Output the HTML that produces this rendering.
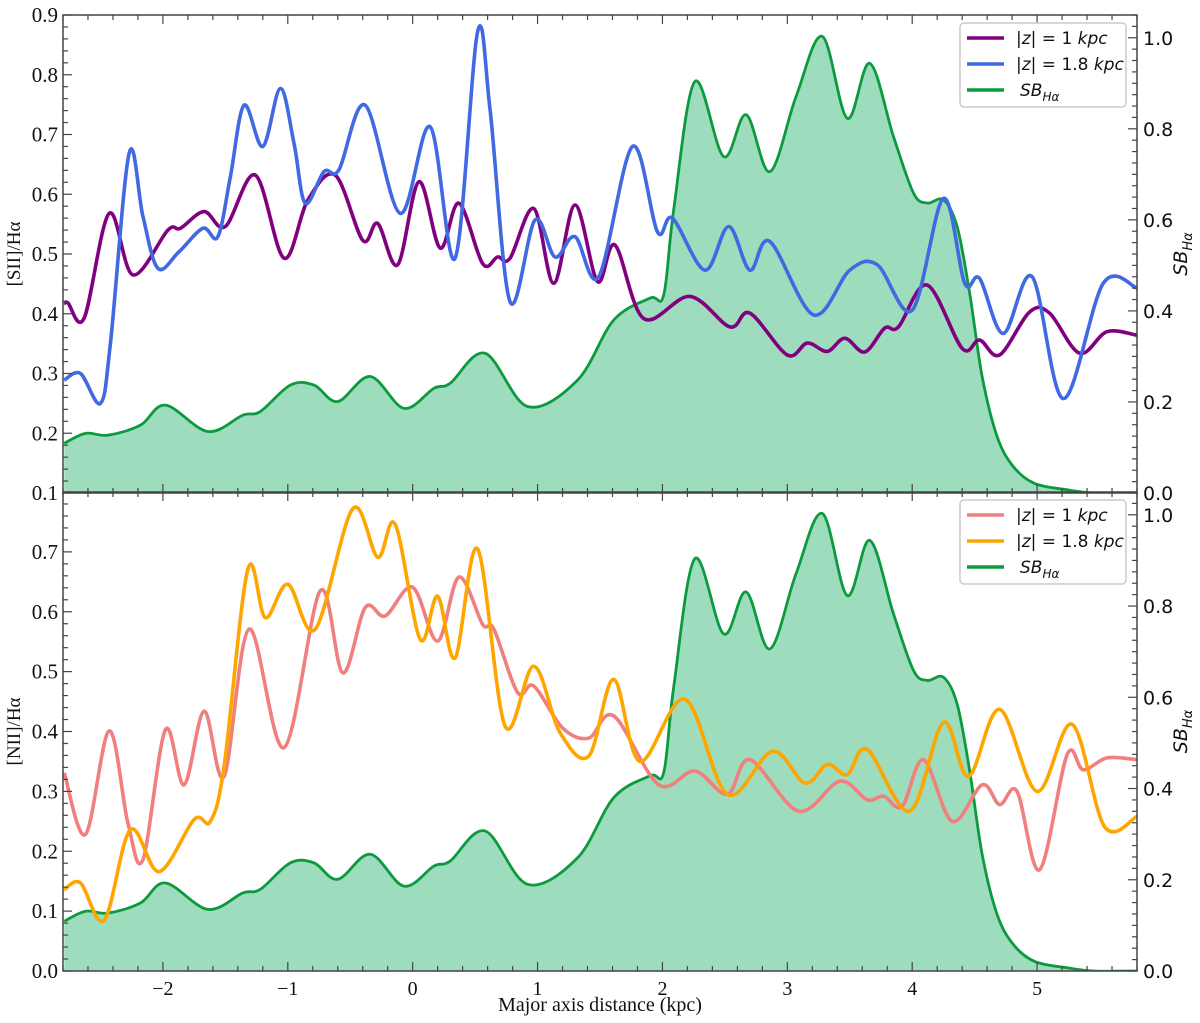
<!DOCTYPE html>
<html><head><meta charset="utf-8">
<style>
body{margin:0;background:#fff;}
svg{display:block;font-family:"Liberation Serif","DejaVu Serif",serif;}
.sans{font-family:"DejaVu Sans","Liberation Sans",sans-serif;}
</style></head>
<body>
<svg id="chart" width="1200" height="1023" viewBox="0 0 1200 1023"></svg>
<script>
// ---- data ----
const sbX = [-2.79,-2.62,-2.44,-2.18,-1.98,-1.64,-1.36,-1.22,-0.98,-0.79,-0.60,-0.34,-0.07,0.17,0.30,0.58,0.92,1.32,1.61,1.90,2.01,2.09,2.26,2.49,2.67,2.86,3.07,3.28,3.48,3.66,3.85,4.01,4.12,4.25,4.36,4.46,4.56,4.68,4.81,4.98,5.24,5.45,5.80];
const sbY = [0.109,0.131,0.127,0.149,0.193,0.135,0.171,0.179,0.237,0.237,0.201,0.256,0.186,0.230,0.241,0.307,0.190,0.248,0.380,0.428,0.435,0.622,0.904,0.739,0.831,0.706,0.871,1.003,0.823,0.944,0.783,0.659,0.637,0.644,0.585,0.439,0.256,0.124,0.058,0.021,0.007,0.0,0.0];

const s1X = [-2.79,-2.76,-2.63,-2.43,-2.24,-1.96,-1.86,-1.67,-1.50,-1.26,-1.03,-0.84,-0.62,-0.40,-0.28,-0.12,0.05,0.22,0.37,0.56,0.68,0.78,0.97,1.13,1.30,1.48,1.62,1.85,2.22,2.54,2.70,3.00,3.16,3.32,3.46,3.62,3.78,3.89,4.12,4.40,4.54,4.70,4.94,5.10,5.34,5.56,5.80];
const s1Y = [0.417,0.418,0.393,0.568,0.465,0.540,0.543,0.571,0.546,0.632,0.493,0.590,0.632,0.523,0.551,0.482,0.621,0.510,0.585,0.484,0.495,0.493,0.576,0.451,0.582,0.454,0.515,0.392,0.429,0.378,0.401,0.331,0.351,0.337,0.359,0.336,0.376,0.378,0.448,0.342,0.356,0.331,0.403,0.401,0.334,0.370,0.364];

const s2X = [-2.79,-2.66,-2.50,-2.42,-2.27,-2.16,-2.04,-1.87,-1.68,-1.56,-1.46,-1.35,-1.20,-1.06,-0.95,-0.86,-0.71,-0.59,-0.38,-0.10,0.14,0.34,0.52,0.62,0.78,0.98,1.14,1.30,1.49,1.76,1.96,2.08,2.34,2.53,2.70,2.86,3.21,3.50,3.72,4.00,4.25,4.42,4.54,4.73,4.96,5.21,5.53,5.80];
const s2Y = [0.289,0.300,0.250,0.351,0.669,0.563,0.476,0.504,0.543,0.529,0.629,0.749,0.680,0.777,0.685,0.585,0.638,0.641,0.749,0.568,0.713,0.493,0.872,0.741,0.420,0.557,0.495,0.529,0.462,0.680,0.537,0.560,0.473,0.546,0.473,0.521,0.398,0.473,0.482,0.406,0.593,0.451,0.459,0.367,0.462,0.258,0.451,0.443];

const n1X = [-2.79,-2.62,-2.43,-2.28,-2.16,-1.98,-1.83,-1.67,-1.51,-1.31,-1.03,-0.74,-0.56,-0.38,-0.22,0.00,0.20,0.37,0.56,0.65,0.84,0.97,1.20,1.41,1.61,1.97,2.26,2.52,2.70,3.09,3.42,3.64,3.77,3.92,4.09,4.32,4.56,4.70,4.84,5.02,5.24,5.37,5.56,5.80];
const n1Y = [0.331,0.228,0.401,0.247,0.186,0.403,0.311,0.434,0.325,0.571,0.373,0.635,0.498,0.607,0.593,0.641,0.551,0.658,0.579,0.571,0.465,0.476,0.406,0.389,0.426,0.311,0.334,0.295,0.353,0.267,0.317,0.286,0.292,0.275,0.353,0.250,0.311,0.278,0.300,0.169,0.361,0.336,0.356,0.353];

const n2X = [-2.79,-2.66,-2.47,-2.26,-2.03,-1.75,-1.62,-1.51,-1.32,-1.18,-1.00,-0.78,-0.48,-0.28,-0.14,0.06,0.20,0.34,0.52,0.74,0.97,1.18,1.41,1.61,1.82,2.18,2.52,2.88,3.14,3.32,3.48,3.64,3.98,4.25,4.45,4.70,5.00,5.28,5.54,5.80];
const n2Y = [0.136,0.147,0.085,0.236,0.166,0.253,0.250,0.342,0.671,0.590,0.646,0.571,0.772,0.691,0.746,0.554,0.626,0.523,0.705,0.409,0.509,0.398,0.359,0.487,0.350,0.454,0.295,0.367,0.314,0.345,0.328,0.370,0.267,0.415,0.325,0.437,0.300,0.412,0.241,0.258];

const xTicks = [-2,-1,0,1,2,3,4,5];
const xTickLabels = ["\u22122","\u22121","0","1","2","3","4","5"];
const topYTicks = [0.1,0.2,0.3,0.4,0.5,0.6,0.7,0.8,0.9];
const botYTicks = [0.0,0.1,0.2,0.3,0.4,0.5,0.6,0.7];
const sbTicks = [0.0,0.2,0.4,0.6,0.8,1.0];

// ---- layout ----
const L=63, R=1137, XMIN=-2.8, XMAX=5.8;
const panels = [
  {name:'sii', top:15, bot:493, ymin:0.1, ymax:0.9, label:'[SII]/H\u03b1', yt:topYTicks, s:[[s1X,s1Y,'#800080','z1'],[s2X,s2Y,'#4169e1','z18']], leg:['#800080','#4169e1'], xlabels:false},
  {name:'nii', top:492, bot:971, ymin:0.0, ymax:0.8, label:'[NII]/H\u03b1', yt:botYTicks, s:[[n1X,n1Y,'#f08080','z1'],[n2X,n2Y,'#ffa500','z18']], leg:['#f08080','#ffa500'], xlabels:true}
];
const svg=document.getElementById('chart');
const NS='http://www.w3.org/2000/svg';
function mk(tag,attrs,parent){const e=document.createElementNS(NS,tag);for(const k in attrs)e.setAttribute(k,attrs[k]);(parent||svg).appendChild(e);return e;}
const xs=v=>L+(v-XMIN)/(XMAX-XMIN)*(R-L);

function smoothPath(px,py){
  let d='M'+px[0].toFixed(2)+','+py[0].toFixed(2);
  for(let i=0;i<px.length-1;i++){
    const x0=px[Math.max(0,i-1)],y0=py[Math.max(0,i-1)];
    const x1=px[i],y1=py[i],x2=px[i+1],y2=py[i+1];
    const x3=px[Math.min(px.length-1,i+2)],y3=py[Math.min(px.length-1,i+2)];
    const c1x=x1+(x2-x0)/6,c1y=y1+(y2-y0)/6,c2x=x2-(x3-x1)/6,c2y=y2-(y3-y1)/6;
    d+=' C'+c1x.toFixed(2)+','+c1y.toFixed(2)+' '+c2x.toFixed(2)+','+c2y.toFixed(2)+' '+x2.toFixed(2)+','+y2.toFixed(2);
  }
  return d;
}

panels.forEach(p=>{
  const ys=v=>p.bot-(v-p.ymin)/(p.ymax-p.ymin)*(p.bot-p.top);
  const ysb=v=>p.bot-v/1.05*(p.bot-p.top);
  const g=mk('g',{});
  
  
  const cid='clip-'+p.name;
  const cp=mk('clipPath',{id:cid},g);mk('rect',{x:L,y:p.top,width:R-L,height:p.bot-p.top},cp);
  const plot=mk('g',{'clip-path':'url(#'+cid+')'},g);
  const sx=sbX.map(xs), sy=sbY.map(ysb);
  const sd=smoothPath(sx,sy);
  const fill=mk('path',{d:sd+' L'+sx[sx.length-1]+','+p.bot+' L'+sx[0]+','+p.bot+' Z',fill:'#9ddcbc',stroke:'none'},plot);
  
  
  const sl=mk('path',{d:sd,fill:'none',stroke:'#0c9a3e','stroke-width':2.8},plot);
  
  
  p.s.forEach(s=>{
    const ln=mk('path',{d:smoothPath(s[0].map(xs),s[1].map(ys)),fill:'none',stroke:s[2],'stroke-width':3.6,'stroke-linejoin':'round'},plot);
    
    
  });
  const fr=mk('rect',{x:L,y:p.top,width:R-L,height:p.bot-p.top,fill:'none',stroke:'#444','stroke-width':1.5},g);
  
  
  for(let v=-2.8;v<=5.81;v+=0.2){
    const vv=Math.round(v*10)/10; const major=Math.abs(vv-Math.round(vv))<1e-6;
    const x=xs(vv), len=major?9:5;
    mk('line',{x1:x,x2:x,y1:p.bot,y2:p.bot-len,stroke:'#444','stroke-width':1.2},g);
    mk('line',{x1:x,x2:x,y1:p.top,y2:p.top+len,stroke:'#444','stroke-width':1.2},g);
  }
  if(p.xlabels){
    xTicks.forEach((v,i)=>{
      const t=mk('text',{x:xs(v),y:p.bot+24,'text-anchor':'middle','font-size':20,fill:'#111'},g);
      t.textContent=xTickLabels[i];
      
      
    });
  }
  for(let v=p.ymin;v<=p.ymax+1e-6;v+=0.02){
    const vv=Math.round(v*100)/100; const major=Math.abs(vv*10-Math.round(vv*10))<1e-6;
    const y=ys(vv);
    mk('line',{x1:L,x2:L+(major?9:5),y1:y,y2:y,stroke:'#444','stroke-width':1.2},g);
  }
  p.yt.forEach(v=>{
    const t=mk('text',{x:L-5,y:ys(v)+7,'text-anchor':'end','font-size':21,fill:'#111'},g);
    t.textContent=v.toFixed(1);
    
    
  });
  for(let v=0;v<=1.05+1e-6;v+=0.025){
    const vv=Math.round(v*1000)/1000; const major=Math.abs(vv*5-Math.round(vv*5))<1e-6;
    const y=ysb(vv);
    mk('line',{x1:R,x2:R-(major?9:5),y1:y,y2:y,stroke:'#444','stroke-width':1.2},g);
  }
  sbTicks.forEach(v=>{
    const t=mk('text',{x:R+6,y:ysb(v)+7,'font-size':19,fill:'#111',class:'sans'},g);
    t.textContent=v.toFixed(1);
    
    
  });
  const cy=(p.top+p.bot)/2;
  const yl=mk('text',{x:0,y:0,transform:'translate(20,'+cy+') rotate(-90)','text-anchor':'middle','font-size':19,fill:'#111'},g);
  yl.textContent=p.label;
  
  
  const yr=mk('text',{x:0,y:0,transform:'translate(1187,'+cy+') rotate(-90)','text-anchor':'middle','font-size':19,'font-style':'italic',fill:'#111',class:'sans'},g);
  yr.innerHTML='SB<tspan font-size="13" dy="5">H\u03b1</tspan>';
  
  
  const lg=mk('g',{},g);
  
  
  const ly=p.top+8;
  mk('rect',{x:960,y:ly,width:166,height:84,rx:4,fill:'#fff','fill-opacity':0.85,stroke:'#ccc','stroke-width':1.5},lg);
  const labels=['|<tspan font-style="italic">z</tspan>| = 1 <tspan font-style="italic">kpc</tspan>','|<tspan font-style="italic">z</tspan>| = 1.8 <tspan font-style="italic">kpc</tspan>','<tspan font-style="italic">SB</tspan><tspan font-style="italic" font-size="12" dy="5">H\u03b1</tspan>'];
  const cols=[p.leg[0],p.leg[1],'#0c9a3e'];
  labels.forEach((lab,i)=>{
    const yy=ly+15+i*26;
    const e=mk('line',{x1:967,x2:1004,y1:yy,y2:yy,stroke:cols[i],'stroke-width':3.6},lg);
    
    
    const t=mk('text',{x:i==2?1020:1016,y:yy+6,'font-size':17,fill:'#111',class:'sans'},lg);
    t.innerHTML=lab;
    
    
  });
});
const xt=mk('text',{x:600,y:1011,'text-anchor':'middle','font-size':20,fill:'#111'});
xt.textContent='Major axis distance (kpc)';


</script>
</body></html>
